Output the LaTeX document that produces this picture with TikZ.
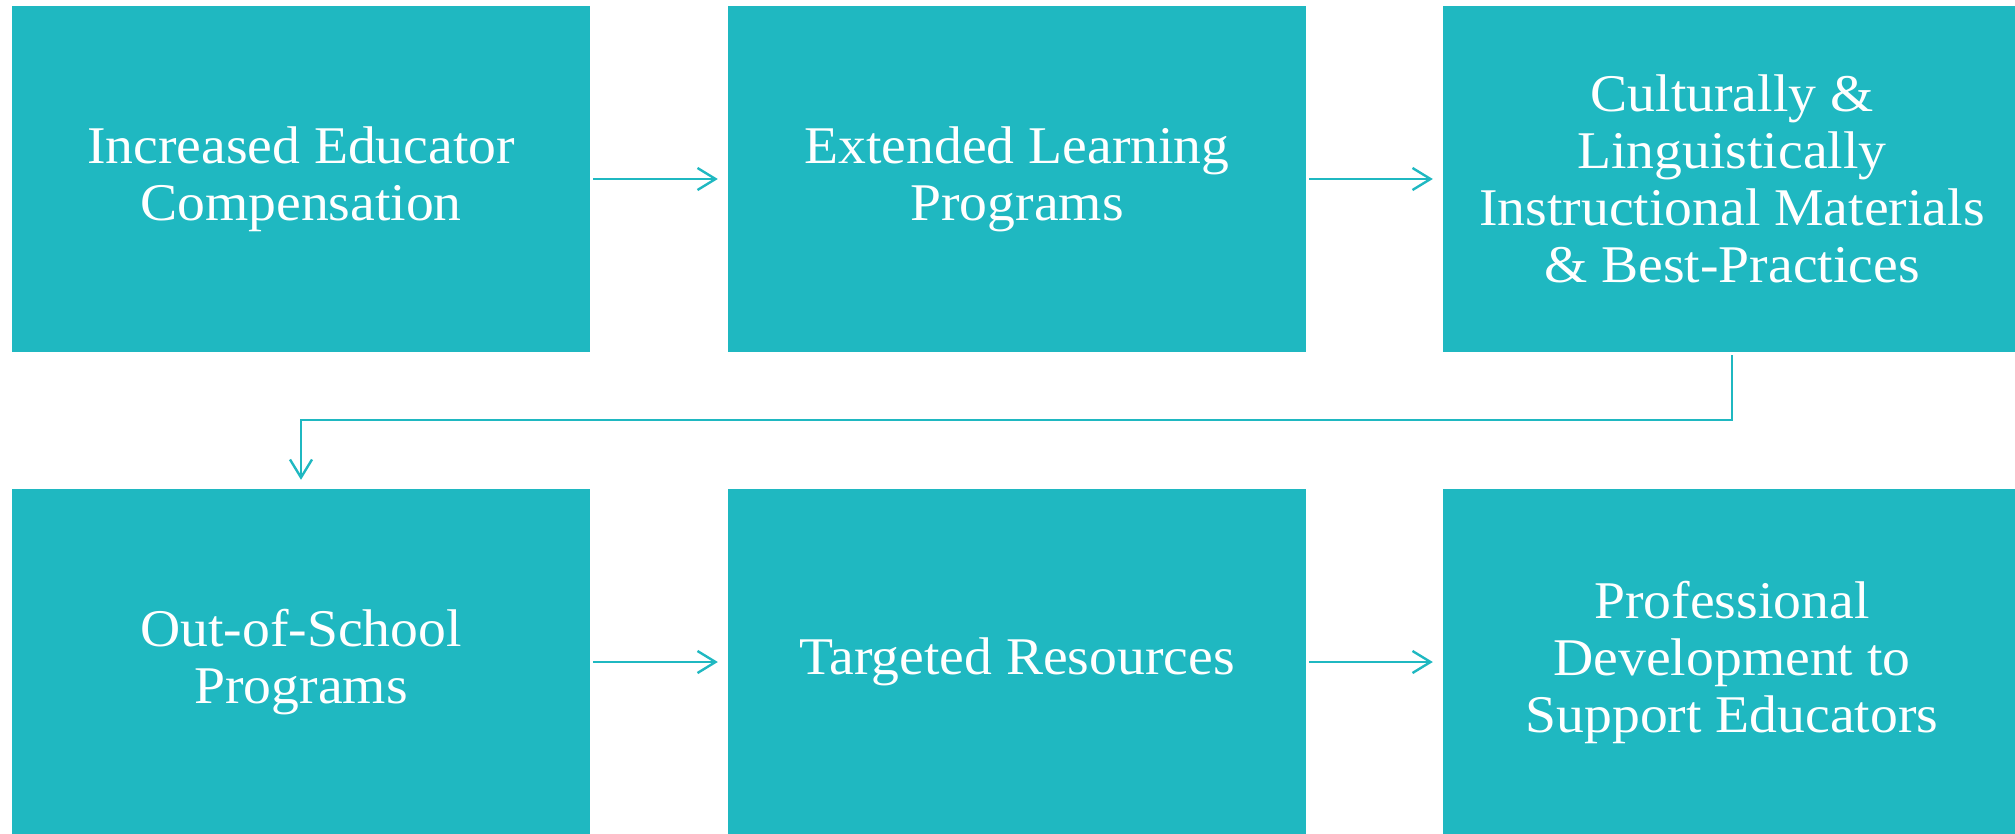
\documentclass[tikz,border=0pt]{standalone}
\usepackage{fontspec}
\setmainfont[FakeStretch=1.05]{Liberation Serif}
\usetikzlibrary{arrows.meta}
\definecolor{teal1}{HTML}{1FB8C1}
\tikzset{
  box/.style={fill=teal1, draw=none, text=white, align=center,
    minimum width=578pt, minimum height=346pt, inner sep=0pt,
    font=\fontsize{53}{57}\selectfont},
  conn/.style={draw=teal1, line width=2pt,
    -{Straight Barb[length=18pt, width=22pt, line width=2.4pt]}},
}
\begin{document}
\begin{tikzpicture}[x=1pt, y=-1pt]
\useasboundingbox (0,0) rectangle (2015,834);
\begin{scope}
\clip (0,0) rectangle (2015,834);
\node[box] (b1) at (301,179) {Increased Educator\\Compensation};
\node[box] (b2) at (1017,179) {Extended Learning\\Programs};
\node[box] (b3) at (1732,179) {Culturally \&\\Linguistically\\Instructional Materials\\\& Best-Practices};
\node[box] (b4) at (301,662) {Out-of-School\\Programs};
\node[box] (b5) at (1017,662) {Targeted Resources};
\node[box] (b6) at (1732,662) {Professional\\Development to\\Support Educators};
\end{scope}
\coordinate (k) at (0,420);
\draw[conn, shorten <=3pt, shorten >=10pt] (b1.east) -- (b2.west);
\draw[conn, shorten <=3pt, shorten >=10pt] (b2.east) -- (b3.west);
\draw[conn, shorten <=3pt, shorten >=10pt] (b4.east) -- (b5.west);
\draw[conn, shorten <=3pt, shorten >=10pt] (b5.east) -- (b6.west);
\draw[conn, shorten <=3pt, shorten >=9pt] (b3.south) -- (b3.south |- k) -| (b4.north);
\end{tikzpicture}
\end{document}
